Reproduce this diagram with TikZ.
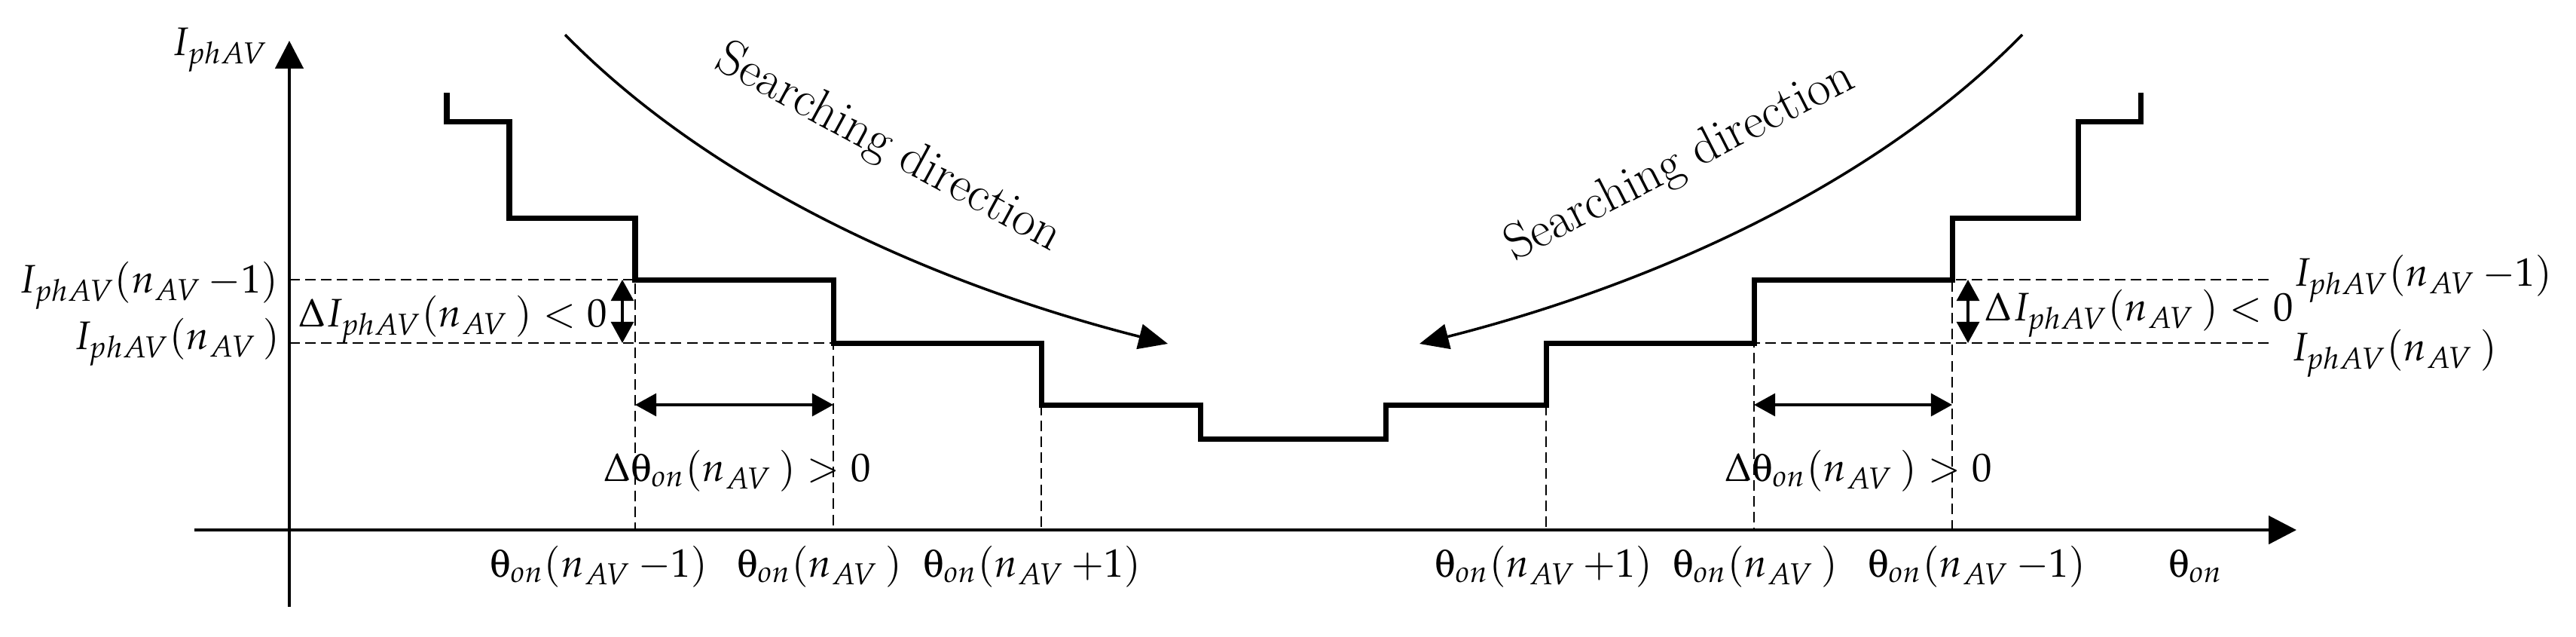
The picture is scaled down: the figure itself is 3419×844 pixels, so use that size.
\documentclass[tikz,border=0pt]{standalone}
\usepackage{mathpazo}
\usepackage[Symbol]{upgreek}
\usetikzlibrary{arrows.meta}

\begin{document}
\begin{tikzpicture}[x=0.01cm,y=-0.01cm,
  axis/.style={line width=1.4pt,-{Triangle[length=10.5pt,width=10.5pt]}},
  stair/.style={line width=2pt},
  guide/.style={line width=0.5pt,dash pattern=on 4pt off 2pt},
  sweep/.style={line width=1pt,-{Triangle[length=11pt,width=9.5pt]}},
  span/.style={line width=1.1pt,{Triangle[length=8pt,width=8.5pt]}-{Triangle[length=8pt,width=8.5pt]}},
  every node/.style={inner sep=0pt,font=\fontsize{15}{18}\selectfont}]
\useasboundingbox (0,0) rectangle (3419,844);
% axes
\draw[axis] (384,805) -- (384,54);
\draw[axis] (258,703) -- (3048,703);
\node[anchor=base east] (yl) at (356,73) {$I_{phAV}$};
\node[anchor=base] (xl) at (2914,765) {$\uptheta_{on}$};
% staircase corners
\coordinate (a) at (843,371);
\coordinate (b) at (1106,455);
\coordinate (c) at (1382,537);
\coordinate (c') at (2052,537);
\coordinate (b') at (2328,455);
\coordinate (a') at (2591,371);
\draw[stair] (593,123) |- (676,161) |- (843,289) |- (1106,371) |- (1382,455)
  |- (1593,537) |- (1839,582) |- (c') |- (b') |- (a') |- (2758,289)
  |- (2841,161) -- (2841,123);
% guide lines
\draw[guide] (384,371) -- (a) -- (843,703);
\draw[guide] (384,455) -- (b) -- (1106,703);
\draw[guide] (c) -- (1382,703);
\draw[guide] (c') -- (2052,703);
\draw[guide] (3011,455) -- (b') -- (2328,703);
\draw[guide] (3011,371) -- (a') -- (2591,703);
% steps
\draw[span] (826,371) -- (826,455);
\draw[span] (2612,371) -- (2612,455);
\draw[span] (843,537) -- (1106,537);
\draw[span] (2328,537) -- (2591,537);
\node[anchor=base east] at (370,388) {$I_{phAV}(n_{AV}\,{-}1)$};
\node[anchor=base east] at (372,463) {$I_{phAV}(n_{AV}\,)$};
\node[anchor=base west] at (3043,379) {$I_{phAV}(n_{AV}\,{-}1)$};
\node[anchor=base west] at (3040,478) {$I_{phAV}(n_{AV}\,)$};
\node[anchor=base west] at (395,433) {$\Delta I_{phAV}(n_{AV}\,)<0$};
\node[anchor=base west] at (2633,425) {$\Delta I_{phAV}(n_{AV}\,)<0$};
\node[anchor=base west] at (800,638) {$\Delta\uptheta_{on}(n_{AV}\,)>0$};
\node[anchor=base west] at (2288,638) {$\Delta\uptheta_{on}(n_{AV}\,)>0$};
\node[anchor=base] at (795,765) {$\uptheta_{on}(n_{AV}\,{-}1)$};
\node[anchor=base] at (1088,765) {$\uptheta_{on}(n_{AV}\,)$};
\node[anchor=base] at (1370,765) {$\uptheta_{on}(n_{AV}\,{+}1)$};
\node[anchor=base] at (2049,765) {$\uptheta_{on}(n_{AV}\,{+}1)$};
\node[anchor=base] at (2330,765) {$\uptheta_{on}(n_{AV}\,)$};
\node[anchor=base] at (2624,765) {$\uptheta_{on}(n_{AV}\,{-}1)$};
% searching direction
\draw[sweep] (750,46) .. controls (950,250) and (1250,380) .. (1550,456);
\draw[sweep] (2684,46) .. controls (2484,250) and (2184,380) .. (1884,456);
\node[rotate=-28.5,font=\fontsize{19}{22}\selectfont] at (1179,197) {Searching direction};
\node[rotate=27,font=\fontsize{19}{22}\selectfont\itshape] at (2230,216) {Searching direction};
\end{tikzpicture}
\end{document}
